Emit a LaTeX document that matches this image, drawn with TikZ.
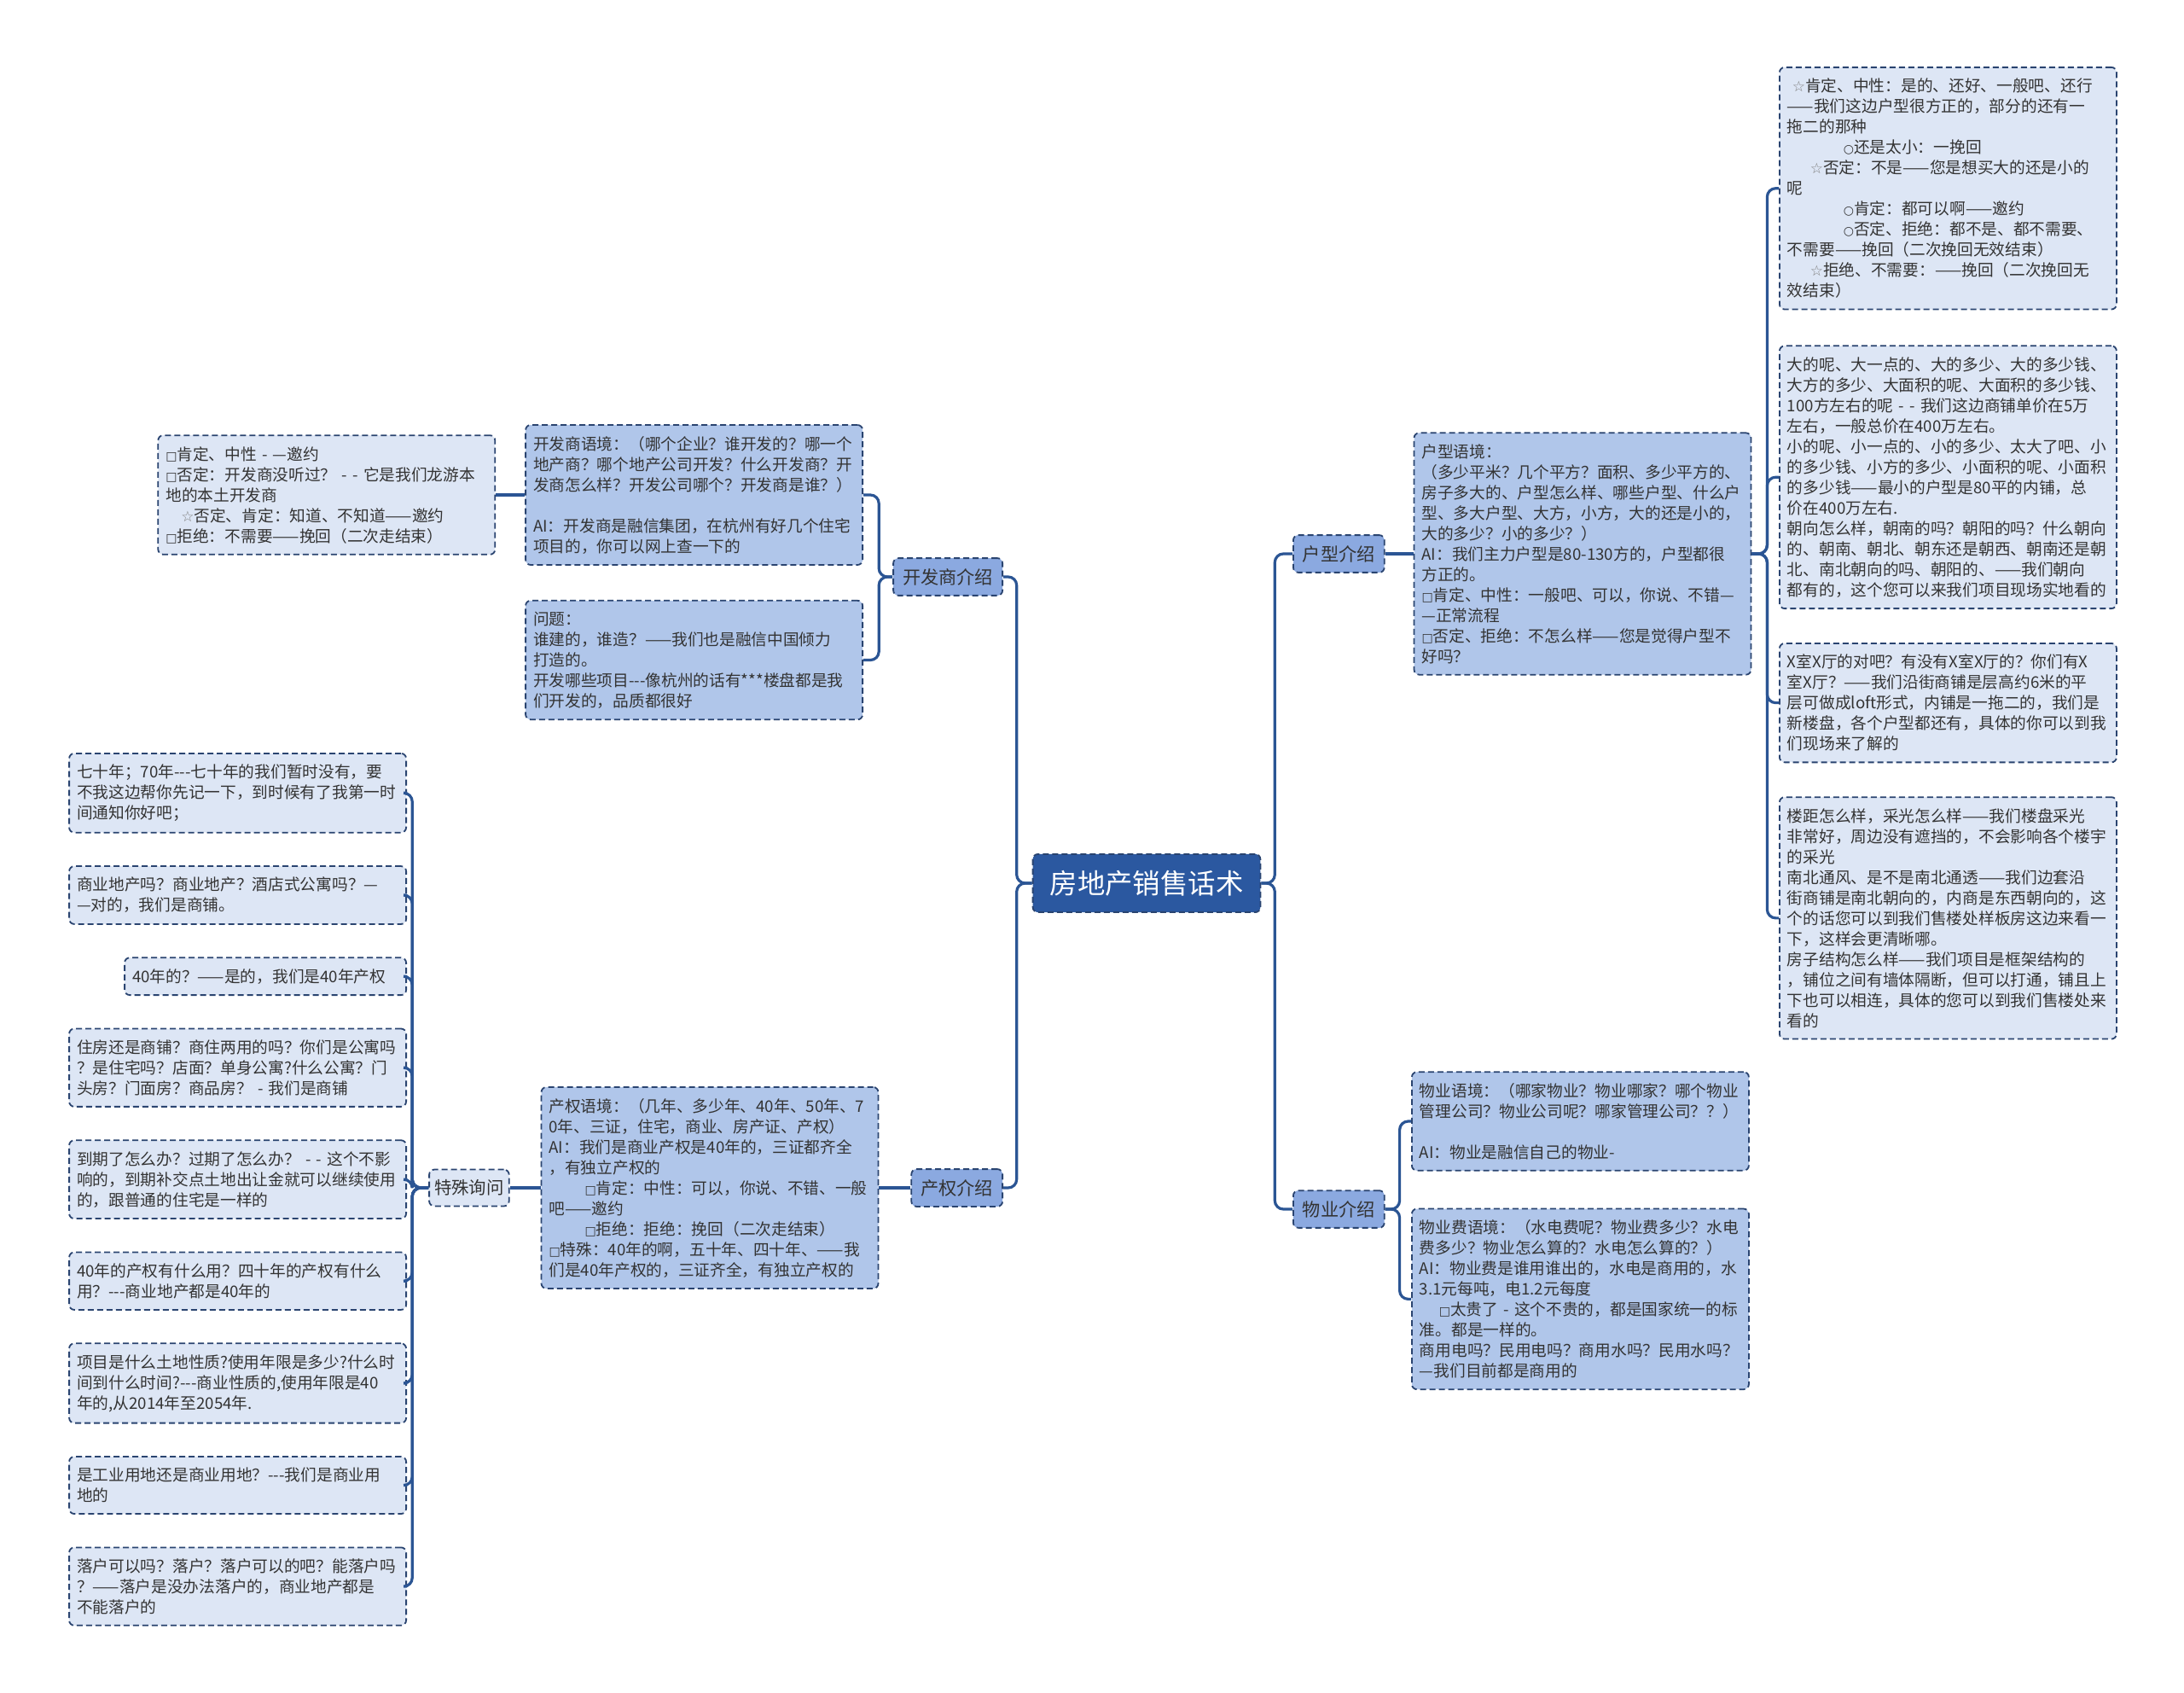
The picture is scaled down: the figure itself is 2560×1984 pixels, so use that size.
\documentclass[tikz,border=0pt]{standalone}
\usepackage{fontspec}
\usepackage{xcolor}
\usepackage{tikz}
\usetikzlibrary{positioning}
\newfontfamily\cjk{Noto Sans CJK SC}
\newfontfamily\symb{DejaVu Sans}
\definecolor{ink}{HTML}{333333}
\definecolor{edge}{HTML}{2A4470}
\definecolor{wire}{HTML}{2B5594}
\definecolor{rootfill}{HTML}{2B58A0}
\definecolor{branchfill}{HTML}{8BA9E0}
\definecolor{ctxfill}{HTML}{B0C6EA}
\definecolor{leaffill}{HTML}{DDE6F5}
\exhyphenpenalty=10000
\newcommand\boxmark{{\symb\fontsize{7}{7}\selectfont □}}
\newcommand\starmark{{\color{gray}\symb\fontsize{8.5}{8.5}\selectfont ☆}}
\newcommand\ringmark{{\symb\fontsize{7}{7}\selectfont ○}}
\tikzset{
  % every box of the map: dashed outline, small rounded corners
  mapbox/.style={
    draw=edge, line width=0.9pt, dash pattern=on 3.5pt off 2pt,
    rounded corners=3pt, text=ink},
  % the central topic
  topic/.style={
    mapbox, fill=rootfill, text=white, inner xsep=10pt, inner ysep=9.5pt,
    font=\cjk\fontsize{16.2}{19}\selectfont},
  % first level branches
  branch/.style={
    mapbox, fill=branchfill, inner xsep=5.5pt, inner ysep=6pt,
    font=\cjk\fontsize{10.6}{12.5}\selectfont},
  % a short label sitting on a wire
  tag/.style={
    mapbox, fill=leaffill, inner xsep=3pt, inner ysep=6pt,
    font=\cjk\fontsize{10.2}{12}\selectfont},
  % context boxes with the answer, next to a branch
  ctx/.style={
    mapbox, fill=ctxfill, align=left, inner xsep=4.5pt, inner ysep=6.5pt,
    font=\cjk\fontsize{9.35}{12}\selectfont, text width=#1},
  ctx/.default=188.5pt,
  % outer answers
  leaf/.style={
    mapbox, fill=leaffill, align=left, inner xsep=4.5pt, inner ysep=6.5pt,
    font=\cjk\fontsize{9.35}{12}\selectfont, text width=#1},
  leaf/.default=188.5pt,
  % wires between boxes
  link/.style={draw=wire, line width=1.6pt, rounded corners=5pt},
}

\begin{document}
\begin{tikzpicture}[x=0.5pt, y=-0.5pt]

\path[use as bounding box, fill=white] (0,0) rectangle (2560,1984);

\node[topic] (root) at (1344,1035) {房地产销售话术};

\node[branch, anchor=east] (dev) at (1176,676) {开发商介绍};
\node[branch, anchor=east] (tenure) at (1176,1392) {产权介绍};
\node[branch, anchor=west] (layout) at (1515,649) {户型介绍};
\node[branch, anchor=west] (estate) at (1515,1417) {物业介绍};

\node[ctx, anchor=east] (devctx) at (1012,580) {
  开发商语境：（哪个企业？谁开发的？哪一个\\
  地产商？哪个地产公司开发？什么开发商？开\\
  发商怎么样？开发公司哪个？开发商是谁？）\\[12pt]
  AI：开发商是融信集团，在杭州有好几个住宅\\
  项目的，你可以网上查一下的};

\node[ctx, below=20pt of devctx] (devq) {
  问题：\\
  谁建的，谁造？——我们也是融信中国倾力\\
  打造的。\\
  开发哪些项目---像杭州的话有***楼盘都是我\\
  们开发的，品质都很好};

\node[leaf, left=17pt of devctx] (devleaf) {
  \boxmark 肯定、中性~-~—邀约\\
  \boxmark 否定：开发商没听过？~-~-~它是我们龙游本\\
  地的本土开发商\\
  \hspace*{9pt}\starmark 否定、肯定：知道、不知道——邀约\\
  \boxmark 拒绝：不需要——挽回（二次走结束）};

\node[ctx, left=18.5pt of tenure] (tenctx) {
  产权语境：（几年、多少年、40年、50年、7\\
  0年、三证，住宅，商业、房产证、产权）\\
  AI：我们是商业产权是40年的，三证都齐全\\
  ，有独立产权的\\
  \hspace*{21pt}\boxmark 肯定：中性：可以，你说、不错、一般\\
  吧——邀约\\
  \hspace*{21pt}\boxmark 拒绝：拒绝：挽回（二次走结束）\\
  \boxmark 特殊：40年的啊，五十年、四十年、——我\\
  们是40年产权的，三证齐全，有独立产权的};

\node[tag, left=18pt of tenctx] (special) {特殊询问};

\node[leaf, anchor=north east] (q1) at (477,882) {
  七十年；70年---七十年的我们暂时没有，要\\
  不我这边帮你先记一下，到时候有了我第一时\\
  间通知你好吧；};
\node[leaf, below=18.8pt of q1.south east, anchor=north east] (q2) {
  商业地产吗？商业地产？酒店式公寓吗？—\\
  —对的，我们是商铺。};
\node[leaf=156pt, below=18.8pt of q2.south east, anchor=north east] (q3) {
  40年的？——是的，我们是40年产权};
\node[leaf, below=18.8pt of q3.south east, anchor=north east] (q4) {
  住房还是商铺？商住两用的吗？你们是公寓吗\\
  ？是住宅吗？店面？单身公寓?什么公寓？门\\
  头房？门面房？商品房？~-~我们是商铺};
\node[leaf, below=18.8pt of q4.south east, anchor=north east] (q5) {
  到期了怎么办？过期了怎么办？~-~-~这个不影\\
  响的，到期补交点土地出让金就可以继续使用\\
  的，跟普通的住宅是一样的};
\node[leaf, below=18.8pt of q5.south east, anchor=north east] (q6) {
  40年的产权有什么用？四十年的产权有什么\\
  用？---商业地产都是40年的};
\node[leaf, below=18.8pt of q6.south east, anchor=north east] (q7) {
  项目是什么土地性质?使用年限是多少?什么时\\
  间到什么时间?---商业性质的,使用年限是40\\
  年的,从2014年至2054年.};
\node[leaf, below=18.8pt of q7.south east, anchor=north east] (q8) {
  是工业用地还是商业用地？---我们是商业用\\
  地的};
\node[leaf, below=18.8pt of q8.south east, anchor=north east] (q9) {
  落户可以吗？落户？落户可以的吧？能落户吗\\
  ？——落户是没办法落户的，商业地产都是\\
  不能落户的};

\node[ctx, right=16.5pt of layout] (layctx) {
  户型语境：\\
  （多少平米？几个平方？面积、多少平方的、\\
  房子多大的、户型怎么样、哪些户型、什么户\\
  型、多大户型、大方，小方，大的还是小的，\\
  大的多少？小的多少？）\\
  AI：我们主力户型是80-130方的，户型都很\\
  方正的。\\
  \boxmark 肯定、中性：一般吧、可以，你说、不错—\\
  —正常流程\\
  \boxmark 否定、拒绝：不怎么样——您是觉得户型不\\
  好吗？};

\node[leaf, anchor=north west] (a1) at (2085,78) {
  \hspace*{3pt}\starmark 肯定、中性：是的、还好、一般吧、还行\\
  ——我们这边户型很方正的，部分的还有一\\
  拖二的那种\\
  \hspace*{33pt}\ringmark 还是太小：一挽回\\
  \hspace*{13.5pt}\starmark 否定：不是——您是想买大的还是小的\\
  呢\\
  \hspace*{33pt}\ringmark 肯定：都可以啊——邀约\\
  \hspace*{33pt}\ringmark 否定、拒绝：都不是、都不需要、\\
  不需要——挽回（二次挽回无效结束）\\
  \hspace*{13.5pt}\starmark 拒绝、不需要：——挽回（二次挽回无\\
  效结束）};
\node[leaf, below=20.5pt of a1] (a2) {
  大的呢、大一点的、大的多少、大的多少钱、\\
  大方的多少、大面积的呢、大面积的多少钱、\\
  100方左右的呢~-~-~我们这边商铺单价在5万\\
  左右，一般总价在400万左右。\\
  小的呢、小一点的、小的多少、太大了吧、小\\
  的多少钱、小方的多少、小面积的呢、小面积\\
  的多少钱——最小的户型是80平的内铺，总\\
  价在400万左右.\\
  朝向怎么样，朝南的吗？朝阳的吗？什么朝向\\
  的、朝南、朝北、朝东还是朝西、朝南还是朝\\
  北、南北朝向的吗、朝阳的、——我们朝向\\
  都有的，这个您可以来我们项目现场实地看的};
\node[leaf, below=19.5pt of a2] (a3) {
  X室X厅的对吧？有没有X室X厅的？你们有X\\
  室X厅？——我们沿街商铺是层高约6米的平\\
  层可做成loft形式，内铺是一拖二的，我们是\\
  新楼盘，各个户型都还有，具体的你可以到我\\
  们现场来了解的};
\node[leaf, below=19.5pt of a3] (a4) {
  楼距怎么样，采光怎么样——我们楼盘采光\\
  非常好，周边没有遮挡的，不会影响各个楼宇\\
  的采光\\
  南北通风、是不是南北通透——我们边套沿\\
  街商铺是南北朝向的，内商是东西朝向的，这\\
  个的话您可以到我们售楼处样板房这边来看一\\
  下，这样会更清晰哪。\\
  房子结构怎么样——我们项目是框架结构的\\
  ，铺位之间有墙体隔断，但可以打通，铺且上\\
  下也可以相连，具体的您可以到我们售楼处来\\
  看的};

\node[ctx, anchor=west] (estctx) at (1654,1314) {
  物业语境：（哪家物业？物业哪家？哪个物业\\
  管理公司？物业公司呢？哪家管理公司？？）\\[12pt]
  AI：物业是融信自己的物业-};
\node[ctx, below=21.5pt of estctx] (feectx) {
  物业费语境：（水电费呢？物业费多少？水电\\
  费多少？物业怎么算的？水电怎么算的？）\\
  AI：物业费是谁用谁出的，水电是商用的，水\\
  3.1元每吨，电1.2元每度\\
  \hspace*{11.5pt}\boxmark 太贵了~-~这个不贵的，都是国家统一的标\\
  准。都是一样的。\\
  商用电吗？民用电吗？商用水吗？民用水吗？\\
  —我们目前都是商用的};

\draw[link] (root.west) -- ++(-9pt,0) |- (dev.east);
\draw[link] (root.west) -- ++(-9pt,0) |- (tenure.east);
\draw[link] (root.east) -- ++(8pt,0) |- (layout.west);
\draw[link] (root.east) -- ++(8pt,0) |- (estate.west);
\draw[link] (dev.west) -- ++(-8pt,0) |- (devctx.east);
\draw[link] (dev.west) -- ++(-8pt,0) |- (devq.east);
\draw[link] (devctx.west) -- (devleaf.east);
\draw[link] (tenure.west) -- (tenctx.east);
\draw[link] (tenctx.west) -- (special.east);
\foreach \i in {1,...,9}
  \draw[link] (special.west) -- ++(-9.5pt,0) |- (q\i.east);
\draw[link] (layout.east) -- (layctx.west);
\foreach \i in {1,...,4}
  \draw[link] (layctx.east) -- ++(9pt,0) |- (a\i.west);
\foreach \n in {estctx,feectx}
  \draw[link] (estate.east) -- ++(8.5pt,0) |- (\n.west);

\end{tikzpicture}
\end{document}
